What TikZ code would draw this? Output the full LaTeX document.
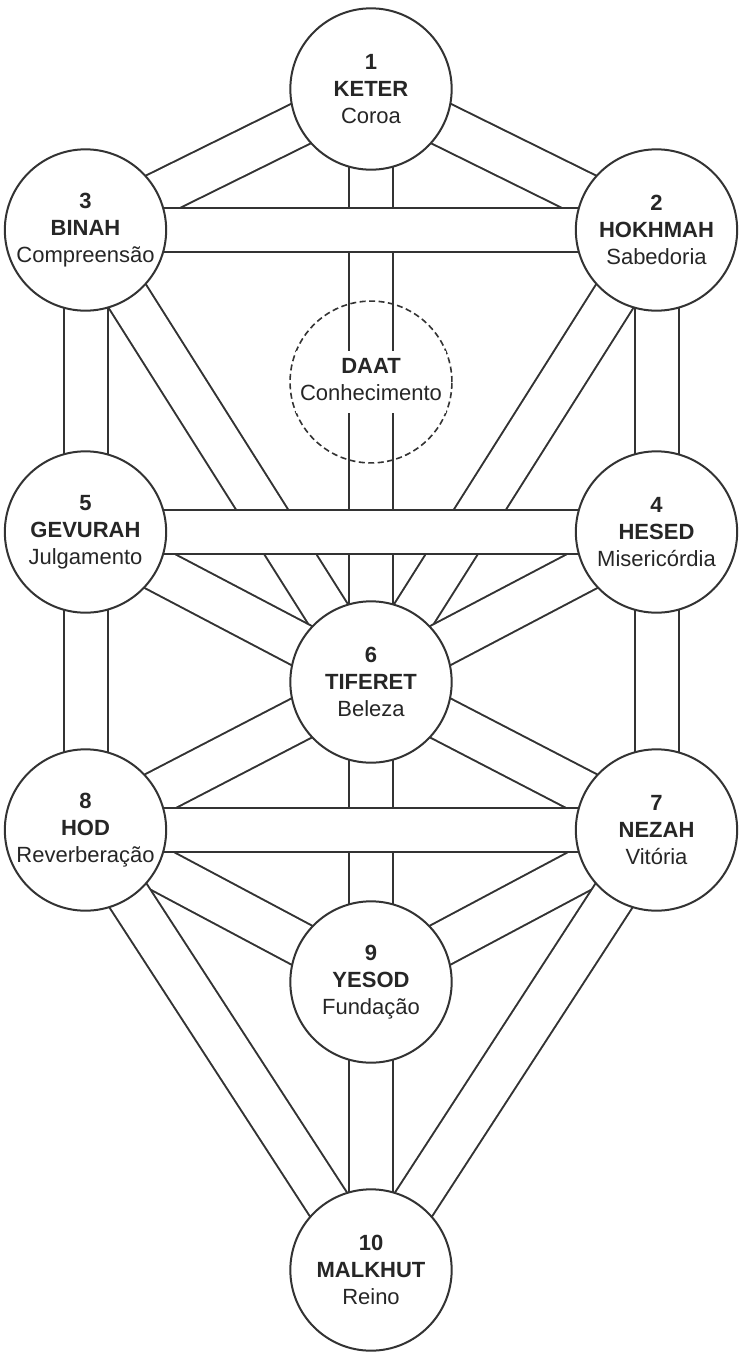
\documentclass[tikz,border=0pt]{standalone}
\usepackage{fontspec}
\setmainfont{Liberation Sans}
\usetikzlibrary{positioning, backgrounds}
\setlength{\fboxsep}{3pt}

\begin{document}
\begin{tikzpicture}[
    x=0.75pt, y=-0.75pt,
    sefira/.style={circle, draw=black!80, line width=1.5pt, fill=white, minimum size=121pt, inner sep=0pt, align=center, text=black!85, font=\fontsize{16.5}{20.25}\selectfont},
    hidden/.style={sefira, fill=none, line width=1.2pt, dash pattern=on 4.5pt off 2.6pt},
    channel/.style={draw=black!80, line width=1.5pt, double=white, double distance=31.5pt}
]
    % Sefirot
    \node[sefira] (keter)   at (371,89)    {\textbf{1}\\\textbf{KETER}\\Coroa};
    \node[sefira] (binah)   at (85.5,230)  {\textbf{3}\\\textbf{BINAH}\\Compreensão};
    \node[sefira] (hokhmah) at (656.5,230) {\textbf{2}\\\textbf{HOKHMAH}\\Sabedoria};
    \node[hidden] (daat)    at (371,382)   {\colorbox{white}{\begin{tabular}{@{}c@{}}\textbf{DAAT}\\Conhecimento\end{tabular}}};
    \node[sefira] (gevurah) at (85.5,532)  {\textbf{5}\\\textbf{GEVURAH}\\Julgamento};
    \node[sefira] (hesed)   at (656.5,532) {\textbf{4}\\\textbf{HESED}\\Misericórdia};
    \node[sefira] (tiferet) at (371,682)   {\textbf{6}\\\textbf{TIFERET}\\Beleza};
    \node[sefira] (hod)     at (85.5,830)  {\textbf{8}\\\textbf{HOD}\\Reverberação};
    \node[sefira] (nezah)   at (656.5,830) {\textbf{7}\\\textbf{NEZAH}\\Vitória};
    \node[sefira] (yesod)   at (371,982)   {\textbf{9}\\\textbf{YESOD}\\Fundação};
    \node[sefira] (malkhut) at (371,1270)  {\textbf{10}\\\textbf{MALKHUT}\\Reino};

    \begin{scope}[on background layer]
        \fill[white] (0,0) rectangle (742,1360);

        % Vertical and diagonal paths
        \draw[channel] (keter.center) -- (binah.center);
        \draw[channel] (keter.center) -- (hokhmah.center);
        \draw[channel] (keter.center) -- (tiferet.center);
        \draw[channel] (binah.center) -- (gevurah.center);
        \draw[channel] (binah.center) -- (tiferet.center);
        \draw[channel] (hokhmah.center) -- (hesed.center);
        \draw[channel] (hokhmah.center) -- (tiferet.center);
        \draw[channel] (gevurah.center) -- (tiferet.center);
        \draw[channel] (hesed.center) -- (tiferet.center);
        \draw[channel] (gevurah.center) -- (hod.center);
        \draw[channel] (hesed.center) -- (nezah.center);
        \draw[channel] (tiferet.center) -- (hod.center);
        \draw[channel] (tiferet.center) -- (nezah.center);
        \draw[channel] (tiferet.center) -- (yesod.center);
        \draw[channel] (hod.center) -- (yesod.center);
        \draw[channel] (nezah.center) -- (yesod.center);
        \draw[channel] (hod.center) -- (malkhut.center);
        \draw[channel] (nezah.center) -- (malkhut.center);
        \draw[channel] (yesod.center) -- (malkhut.center);

        % Horizontal paths
        \draw[channel] (binah.center) -- (hokhmah.center);
        \draw[channel] (gevurah.center) -- (hesed.center);
        \draw[channel] (hod.center) -- (nezah.center);
    \end{scope}
\end{tikzpicture}
\end{document}
